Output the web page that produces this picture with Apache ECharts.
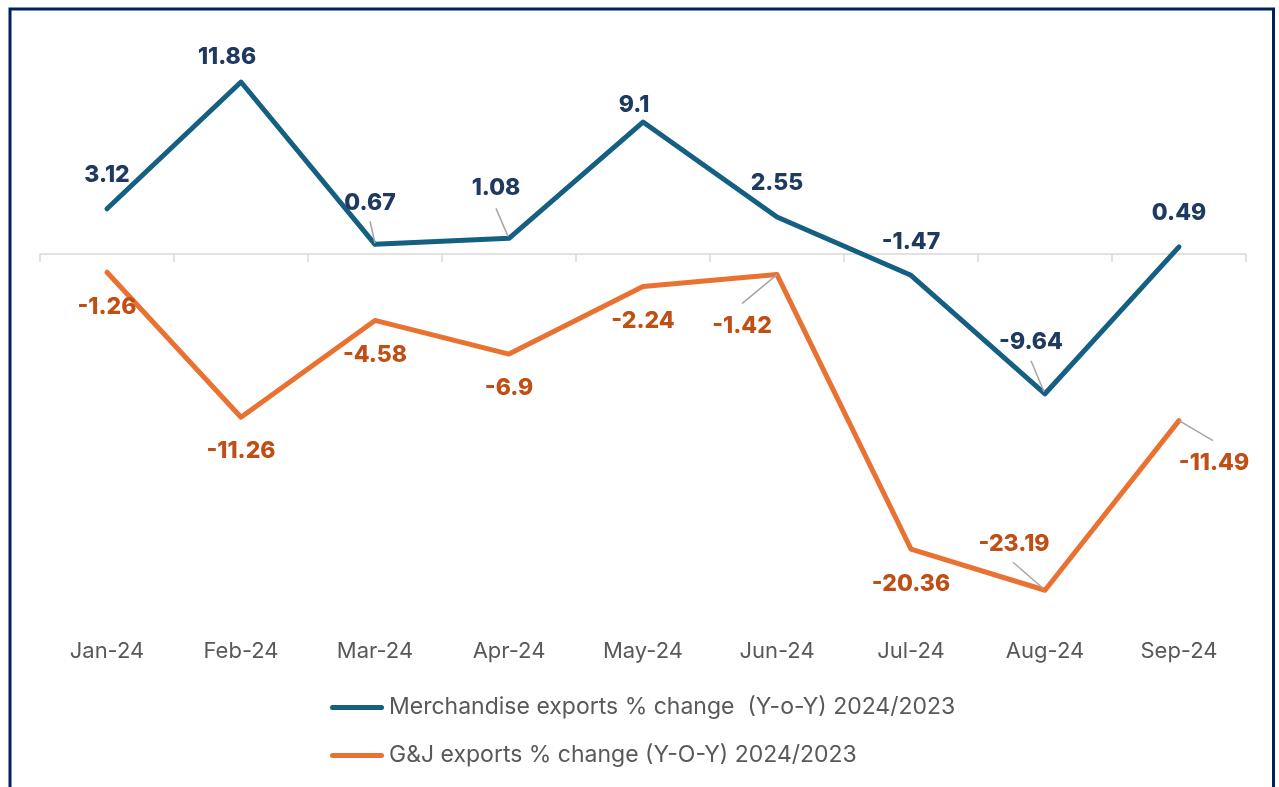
<!DOCTYPE html>
<html>
<head>
<meta charset="utf-8">
<script src="https://cdn.jsdelivr.net/npm/echarts@6/dist/echarts.min.js"></script>
<style>
html,body{margin:0;padding:0;background:#fff;}
#chart{width:1279px;height:787px;}
</style>
</head>
<body>
<div id="chart"></div>
<script>
// ---- data ----
const categories = ['Jan-24','Feb-24','Mar-24','Apr-24','May-24','Jun-24','Jul-24','Aug-24','Sep-24'];
const merchName = 'Merchandise exports % change  (Y-o-Y) 2024/2023';
const gjName = 'G&J exports % change (Y-O-Y) 2024/2023';
const merchValues = [3.12, 11.86, 0.67, 1.08, 9.1, 2.55, -1.47, -9.64, 0.49];
const gjValues = [-1.26, -11.26, -4.58, -6.9, -2.24, -1.42, -20.36, -23.19, -11.49];

// ---- layout (label offsets in px relative to point) ----
const merchLabelOffsets = [[0,-34],[-14,-25],[-5,-41],[-13,-50],[-9,-17],[0,-34],[0,-33],[-14,-52],[0,-34]];
const gjLabelOffsets = [[0,35],[0,34],[0,35],[0,34],[0,35],[-35,51],[0,35],[-31,-46],[35,42]];
// [series, index, startDx, startDy, endDx, endDy]
const leaderLines = [
  ['merch', 2, -5, -23, 0, -1],
  ['merch', 3, -13, -30, -1, -2],
  ['merch', 7, -14, -33, -1, -2],
  ['gj', 5, -35, 29, 0, 0],
  ['gj', 7, -32, -28, -2, -2],
  ['gj', 8, 0, 0, 34, 20]
];

const FONT = 'Inter';
const merchColor = '#156082', merchLabel = '#1E3A60';
const gjColor = '#E97132', gjLabel = '#C04F15';

function buildData(values, offsets) {
  return values.map((v, i) => ({
    value: v,
    label: { offset: offsets[i] }
  }));
}

const chart = echarts.init(document.getElementById('chart'), null, {renderer: 'canvas'});
const legendIcon = 'path://M2.5,0 H51.5 A2.5,2.5 0 0 1 51.5,5 H2.5 A2.5,2.5 0 0 1 2.5,0 Z';

chart.setOption({
  backgroundColor: '#ffffff',
  animation: false,
  textStyle: { fontFamily: FONT },
  graphic: [{
    type: 'rect',
    shape: { x: 10, y: 9, width: 1263.5, height: 800 },
    style: { fill: 'none', stroke: '#002060', lineWidth: 3 },
    silent: true, z: 100
  }],
  legend: {
    orient: 'vertical',
    left: 330,
    top: 696,
    padding: 0,
    itemWidth: 54,
    itemHeight: 5,
    itemGap: 25,
    textStyle: { fontFamily: FONT, fontSize: 23, color: '#595959' },
    data: [
      { name: merchName, icon: legendIcon, itemStyle: { color: merchColor } },
      { name: gjName, icon: legendIcon, itemStyle: { color: gjColor } }
    ]
  },
  grid: { left: 40, right: 33, top: 80, bottom: 185, containLabel: false },
  xAxis: [{
    type: 'category',
    data: categories,
    boundaryGap: true,
    position: 'bottom',
    axisLine: { show: false, onZero: false },
    axisTick: { show: false },
    axisLabel: { margin: 38, fontFamily: FONT, fontSize: 22, color: '#595959' }
  }, {
    type: 'category',
    data: categories,
    boundaryGap: true,
    position: 'top',
    axisLine: { show: true, onZero: true, lineStyle: { color: '#D9D9D9', width: 1.5 } },
    axisTick: { show: true, inside: true, length: 8, lineStyle: { color: '#D9D9D9', width: 1.5 } },
    axisLabel: { show: false }
  }],
  yAxis: {
    type: 'value',
    min: -24, max: 12, interval: 6,
    show: false,
    splitLine: { show: false }
  },
  series: [{
    name: merchName,
    type: 'line',
    xAxisIndex: 0,
    data: buildData(merchValues, merchLabelOffsets),
    symbol: 'circle', symbolSize: 2, showSymbol: true,
    itemStyle: { color: merchColor },
    lineStyle: { color: merchColor, width: 5, cap: 'round', join: 'round' },
    label: {
      show: true, position: 'inside',
      fontFamily: FONT, fontSize: 23, fontWeight: 800, color: merchLabel
    },
    z: 3
  }, {
    name: gjName,
    type: 'line',
    xAxisIndex: 0,
    data: buildData(gjValues, gjLabelOffsets),
    symbol: 'circle', symbolSize: 2, showSymbol: true,
    itemStyle: { color: gjColor },
    lineStyle: { color: gjColor, width: 5, cap: 'round', join: 'round' },
    label: {
      show: true, position: 'inside',
      fontFamily: FONT, fontSize: 23, fontWeight: 800, color: gjLabel
    },
    z: 3
  }, {
    type: 'custom',
    xAxisIndex: 0,
    silent: true,
    data: leaderLines.map(l => [l[1], (l[0] === 'merch' ? merchValues : gjValues)[l[1]]]),
    renderItem: function (params, api) {
      const p = api.coord([api.value(0), api.value(1)]);
      const l = leaderLines[params.dataIndex];
      return {
        type: 'line',
        shape: { x1: p[0] + l[2], y1: p[1] + l[3], x2: p[0] + l[4], y2: p[1] + l[5] },
        style: { stroke: '#A6A6A6', lineWidth: 1.5 }
      };
    },
    z: 4
  }]
});
</script>
</body>
</html>
